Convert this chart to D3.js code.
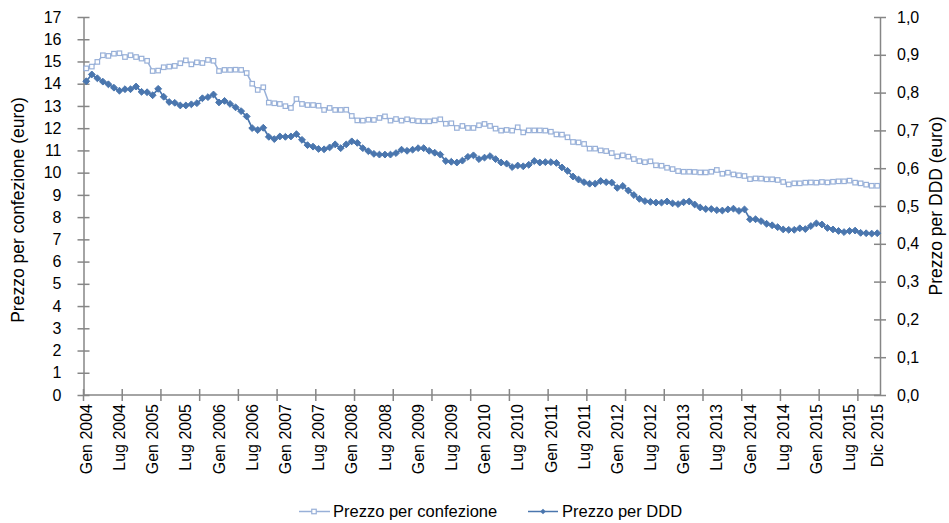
<!DOCTYPE html>
<html>
<head>
<meta charset="utf-8">
<script src="https://cdn.jsdelivr.net/npm/d3@7"></script>
<style>
  html, body { margin: 0; padding: 0; background: #fff; }
  svg { display: block; }
  text { font-family: "Liberation Sans", Arial, sans-serif; fill: #000; }
</style>
</head>
<body>
<svg id="chart" width="949" height="523"></svg>
<script>
const monthNames = ["Gen","Feb","Mar","Apr","Mag","Giu","Lug","Ago","Set","Ott","Nov","Dic"];
const years = [2004,2005,2006,2007,2008,2009,2010,2011,2012,2013,2014,2015];
const shownLabels = ["Gen 2004","Lug 2004","Gen 2005","Lug 2005","Gen 2006","Lug 2006","Gen 2007","Lug 2007",
  "Gen 2008","Lug 2008","Gen 2009","Lug 2009","Gen 2010","Lug 2010","Gen 2011","Lug 2011","Gen 2012","Lug 2012",
  "Gen 2013","Lug 2013","Gen 2014","Lug 2014","Gen 2015","Lug 2015","Dic 2015"];
const leftTicks = [0,1,2,3,4,5,6,7,8,9,10,11,12,13,14,15,16,17];
const rightTicks = [0,0.1,0.2,0.3,0.4,0.5,0.6,0.7,0.8,0.9,1.0];
const seriesNames = ["Prezzo per confezione","Prezzo per DDD"];

const prezzoConfezione = [
  14.69,14.77,14.98,15.28,15.25,15.35,15.37,15.20,15.28,15.20,15.13,15.03,
  14.57,14.59,14.74,14.77,14.80,14.92,15.05,14.87,14.96,14.93,15.07,15.03,
  14.57,14.62,14.62,14.63,14.62,14.48,14.00,13.72,13.84,13.15,13.12,13.09,
  12.99,12.91,13.31,13.09,13.04,13.04,13.01,12.82,12.91,12.82,12.82,12.83,
  12.55,12.35,12.34,12.38,12.37,12.46,12.53,12.34,12.41,12.34,12.40,12.35,
  12.32,12.31,12.31,12.35,12.40,12.20,12.22,12.01,12.10,12.01,12.01,12.13,
  12.19,12.10,11.98,11.89,11.92,11.89,12.04,11.81,11.90,11.90,11.90,11.89,
  11.84,11.72,11.71,11.59,11.38,11.36,11.29,11.08,11.08,11.00,10.97,10.88,
  10.73,10.78,10.72,10.61,10.52,10.47,10.51,10.33,10.31,10.22,10.16,10.07,
  10.04,10.04,10.03,10.01,10.01,10.04,10.12,9.95,10.00,9.92,9.88,9.85,
  9.71,9.74,9.73,9.70,9.70,9.67,9.58,9.47,9.52,9.52,9.55,9.56,
  9.55,9.58,9.56,9.59,9.61,9.61,9.64,9.55,9.52,9.46,9.41,9.41
];
const prezzoDDD = [
  0.830,0.848,0.838,0.829,0.822,0.813,0.805,0.809,0.809,0.816,0.802,0.801,
  0.793,0.810,0.789,0.775,0.773,0.766,0.766,0.769,0.772,0.785,0.788,0.795,
  0.774,0.778,0.770,0.761,0.751,0.737,0.706,0.701,0.707,0.683,0.677,0.684,
  0.683,0.684,0.690,0.675,0.661,0.657,0.651,0.650,0.655,0.663,0.653,0.663,
  0.671,0.667,0.653,0.645,0.638,0.636,0.636,0.636,0.640,0.649,0.646,0.649,
  0.653,0.653,0.646,0.641,0.636,0.619,0.617,0.615,0.620,0.630,0.634,0.624,
  0.628,0.632,0.624,0.615,0.612,0.603,0.607,0.605,0.609,0.619,0.615,0.616,
  0.616,0.614,0.602,0.593,0.578,0.570,0.563,0.559,0.559,0.566,0.563,0.562,
  0.548,0.553,0.541,0.529,0.519,0.513,0.511,0.509,0.509,0.512,0.507,0.505,
  0.510,0.512,0.504,0.496,0.492,0.492,0.489,0.488,0.491,0.493,0.487,0.491,
  0.465,0.465,0.460,0.453,0.449,0.444,0.438,0.437,0.437,0.441,0.439,0.447,
  0.454,0.451,0.442,0.438,0.434,0.431,0.434,0.435,0.429,0.428,0.427,0.428
];

const categories = [];
years.forEach(y => monthNames.forEach(m => categories.push(m + " " + y)));

const svg = d3.select("#chart");
const L = 83.5, R = 880, T = 17, B = 395;
const axisColor = "#868686";
const colConf = "#98B0D8";
const colDDD = "#4A76AE";

const x = d3.scalePoint().domain(categories).range([L, R]).padding(0.5);
const step = x.step();
const yL = d3.scaleLinear().domain([0, 17]).range([B, T]);
const yR = d3.scaleLinear().domain([0, 1]).range([B, T]);

// Left axis
const gL = svg.append("g").attr("transform", `translate(${L},0)`)
  .call(d3.axisLeft(yL).tickValues(leftTicks).tickSizeInner(6).tickSizeOuter(0).tickPadding(16).tickFormat(d3.format("d")));
gL.select(".domain").attr("stroke", axisColor).attr("stroke-width", 1.5);
gL.selectAll(".tick line").attr("x1", 6).attr("stroke", axisColor).attr("stroke-width", 1.5);
gL.selectAll(".tick text").style("font-size", "16px");

// Right axis
const fmtR = v => d3.format(".1f")(v).replace(".", ",");
const gR = svg.append("g").attr("transform", `translate(${R},0)`)
  .call(d3.axisRight(yR).tickValues(rightTicks).tickSizeInner(6).tickSizeOuter(0).tickPadding(11).tickFormat(fmtR));
gR.select(".domain").attr("stroke", axisColor).attr("stroke-width", 1.5);
gR.selectAll(".tick line").attr("x1", -6).attr("stroke", axisColor).attr("stroke-width", 1.5);
gR.selectAll(".tick text").style("font-size", "16px");

// X axis line
svg.append("line").attr("x1", L).attr("x2", R).attr("y1", B).attr("y2", B)
  .attr("stroke", axisColor).attr("stroke-width", 1.5);
// tick marks every 7 categories (at category boundaries)
const tickCats = categories.filter((c, i) => i % 7 === 0);
svg.append("g").selectAll("line").data(tickCats).join("line")
  .attr("x1", d => x(d) - step / 2).attr("x2", d => x(d) - step / 2)
  .attr("y1", B - 6).attr("y2", B + 6)
  .attr("stroke", axisColor).attr("stroke-width", 1.5);

// X labels
svg.append("g").selectAll("text").data(shownLabels).join("text")
  .attr("transform", d => `translate(${x(d)},${B + 9}) rotate(-90)`)
  .attr("text-anchor", "end").attr("dy", "0.35em")
  .style("font-size", "16px")
  .text(d => d);

// Axis titles
svg.append("text").attr("transform", `translate(24,${(T + B) / 2 + 4}) rotate(-90)`)
  .attr("text-anchor", "middle").style("font-size", "17.5px")
  .text("Prezzo per confezione (euro)");
svg.append("text").attr("transform", `translate(942,${(T + B) / 2}) rotate(-90)`)
  .attr("text-anchor", "middle").style("font-size", "17.5px")
  .text("Prezzo per DDD (euro)");

// Lines
const lineConf = d3.line().x((d, i) => x(categories[i])).y(d => yL(d));
const lineDDD = d3.line().x((d, i) => x(categories[i])).y(d => yR(d));

svg.append("path").datum(prezzoConfezione).attr("d", lineConf)
  .attr("fill", "none").attr("stroke", colConf).attr("stroke-width", 1.5);
svg.append("path").datum(prezzoDDD).attr("d", lineDDD)
  .attr("fill", "none").attr("stroke", colDDD).attr("stroke-width", 1.75);

const sq = 4.5;
svg.append("g").selectAll("rect").data(prezzoConfezione).join("rect")
  .attr("x", (d, i) => x(categories[i]) - sq / 2).attr("y", d => yL(d) - sq / 2)
  .attr("width", sq).attr("height", sq)
  .attr("fill", "#fff").attr("stroke", colConf).attr("stroke-width", 1.2);

const diamond = d3.symbol().type(d3.symbolDiamond2).size(30);
svg.append("g").selectAll("path").data(prezzoDDD).join("path")
  .attr("transform", (d, i) => `translate(${x(categories[i])},${yR(d)})`)
  .attr("d", diamond).attr("fill", colDDD).attr("stroke", colDDD).attr("stroke-width", 1);

// Legend
const legY = 511.5;
const leg = svg.append("g");
leg.append("line").attr("x1", 299).attr("x2", 330).attr("y1", legY).attr("y2", legY)
  .attr("stroke", colConf).attr("stroke-width", 1.5);
leg.append("rect").attr("x", 314 - sq / 2).attr("y", legY - sq / 2).attr("width", sq).attr("height", sq)
  .attr("fill", "#fff").attr("stroke", colConf).attr("stroke-width", 1.2);
leg.append("text").attr("x", 333).attr("y", legY).attr("dy", "0.35em").style("font-size", "16.5px")
  .text(seriesNames[0]);
leg.append("line").attr("x1", 528).attr("x2", 558).attr("y1", legY).attr("y2", legY)
  .attr("stroke", colDDD).attr("stroke-width", 1.5);
leg.append("path").attr("transform", `translate(543,${legY})`).attr("d", d3.symbol().type(d3.symbolDiamond2).size(20))
  .attr("fill", colDDD);
leg.append("text").attr("x", 562).attr("y", legY).attr("dy", "0.35em").style("font-size", "16.5px")
  .text(seriesNames[1]);
</script>
</body>
</html>
